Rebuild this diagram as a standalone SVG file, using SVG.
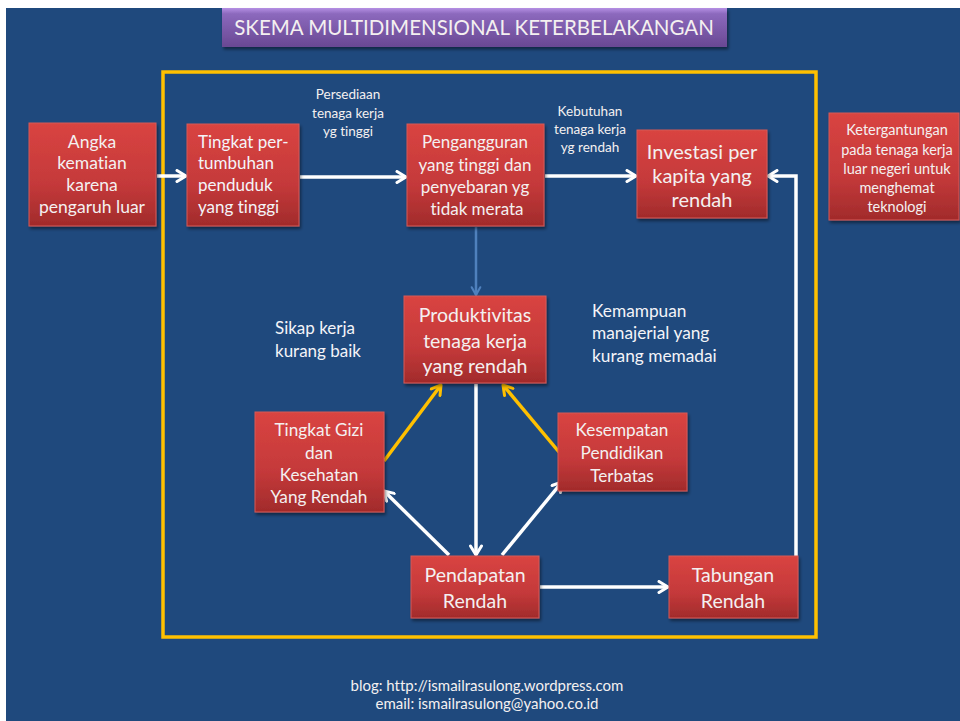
<svg xmlns="http://www.w3.org/2000/svg" width="960" height="721" viewBox="0 0 960 721">
<defs>
<linearGradient id="red" x1="0" y1="0" x2="0" y2="1">
<stop offset="0" stop-color="#D94441"/>
<stop offset="0.6" stop-color="#C4393A"/>
<stop offset="1" stop-color="#A12B2B"/>
</linearGradient>
<linearGradient id="purple" x1="0" y1="0" x2="0" y2="1">
<stop offset="0" stop-color="#B58FE4"/>
<stop offset="0.15" stop-color="#8C69BD"/>
<stop offset="1" stop-color="#694893"/>
</linearGradient>
<filter id="sh" x="-10%" y="-10%" width="130%" height="130%">
<feDropShadow dx="1.5" dy="2.5" stdDeviation="1.5" flood-color="#000" flood-opacity="0.45"/>
</filter>
<marker id="aw" viewBox="0 0 14 14" refX="12" refY="7" markerWidth="14" markerHeight="14" markerUnits="userSpaceOnUse" orient="auto">
<path d="M3,1.5 L12,7 L3,12.5" fill="none" stroke="#FFFFFF" stroke-width="3" stroke-linecap="round" stroke-linejoin="round"/>
</marker>
<marker id="ay" viewBox="0 0 14 14" refX="12" refY="7" markerWidth="14" markerHeight="14" markerUnits="userSpaceOnUse" orient="auto">
<path d="M3,1.5 L12,7 L3,12.5" fill="none" stroke="#FFC000" stroke-width="3" stroke-linecap="round" stroke-linejoin="round"/>
</marker>
<marker id="ab" viewBox="0 0 14 14" refX="12" refY="7" markerWidth="12" markerHeight="12" markerUnits="userSpaceOnUse" orient="auto">
<path d="M3,2 L12,7 L3,12" fill="none" stroke="#4F81BD" stroke-width="2.5" stroke-linecap="round" stroke-linejoin="round"/>
</marker>
</defs>
<style>
.box{fill:url(#red);stroke:#D65A58;stroke-width:1;filter:url(#sh)}
text{font-variant-ligatures:none}
.t{font-family:Lato,"Liberation Sans",sans-serif;fill:#F4F0F0;text-anchor:middle}
.tl{font-family:Lato,"Liberation Sans",sans-serif;fill:#F4F4F8}
.w{stroke:#FFFFFF;stroke-width:3.5;fill:none}
.y{stroke:#FFC000;stroke-width:3.5;fill:none}
</style>
<rect x="0" y="0" width="960" height="721" fill="#FFFFFF"/>
<rect x="6" y="8" width="954" height="713" fill="#1F497D"/>

<g id="title">
<rect x="222" y="8" width="505" height="39" fill="url(#purple)" filter="url(#sh)"/>
<text x="474" y="35" class="t" font-size="20.5" fill="#FFFFFF">SKEMA MULTIDIMENSIONAL KETERBELAKANGAN</text>
</g>

<g id="frame">
<rect x="163" y="72" width="653" height="565" fill="none" stroke="#FFC000" stroke-width="3.5"/>
</g>

<g id="connectors">
<line class="w" x1="157" y1="176" x2="186" y2="176" marker-end="url(#aw)"/>
<line class="w" x1="300" y1="177" x2="406" y2="177" marker-end="url(#aw)"/>
<line class="w" x1="545" y1="176" x2="636" y2="176" marker-end="url(#aw)"/>
<polyline class="w" points="796,556 796,176 768,176" marker-end="url(#aw)"/>
<line x1="476" y1="227" x2="476" y2="295" stroke="#4F81BD" stroke-width="2.5" marker-end="url(#ab)"/>
<line class="y" x1="384" y1="461" x2="441" y2="385" marker-end="url(#ay)"/>
<line class="y" x1="559" y1="452" x2="503" y2="385" marker-end="url(#ay)"/>
<line class="w" x1="476" y1="384" x2="476" y2="555" marker-end="url(#aw)"/>
<line class="w" x1="449" y1="555" x2="384" y2="491" marker-end="url(#aw)"/>
<line class="w" x1="502" y1="555" x2="562" y2="482" marker-end="url(#aw)"/>
<line class="w" x1="540" y1="587" x2="668" y2="587" marker-end="url(#aw)"/>
</g>

<g id="angka">
<rect class="box" x="29" y="123" width="127" height="103"/>
<text class="t" font-size="17.5"><tspan x="92" y="148">Angka</tspan><tspan x="92" y="169">kematian</tspan><tspan x="92" y="191">karena</tspan><tspan x="92" y="213">pengaruh luar</tspan></text>
</g>

<g id="tingkat">
<rect class="box" x="187" y="124" width="112" height="102"/>
<text class="tl" font-size="17"><tspan x="198" y="148">Tingkat per-</tspan><tspan x="198" y="169">tumbuhan</tspan><tspan x="198" y="191">penduduk</tspan><tspan x="198" y="213">yang tinggi</tspan></text>
</g>

<g id="pengangguran">
<rect class="box" x="407" y="124" width="137" height="102"/>
<text class="t" font-size="17"><tspan x="475" y="148">Pengangguran</tspan><tspan x="475" y="171">yang tinggi dan</tspan><tspan x="475" y="193">penyebaran yg</tspan><tspan x="477" y="215">tidak merata</tspan></text>
</g>

<g id="investasi">
<rect class="box" x="637" y="130" width="130" height="88"/>
<text class="t" font-size="20"><tspan x="702" y="159">Investasi per</tspan><tspan x="702" y="183">kapita yang</tspan><tspan x="702" y="207">rendah</tspan></text>
</g>

<g id="ketergantungan">
<rect class="box" x="829" y="113" width="130" height="107"/>
<text class="t" font-size="14.5"><tspan x="897" y="135">Ketergantungan</tspan><tspan x="897" y="155">pada tenaga kerja</tspan><tspan x="897" y="174">luar negeri untuk</tspan><tspan x="897" y="193">menghemat</tspan><tspan x="897" y="212">teknologi</tspan></text>
</g>

<g id="label-persediaan">
<text class="t" font-size="13.5"><tspan x="348" y="99">Persediaan</tspan><tspan x="348" y="118">tenaga kerja</tspan><tspan x="348" y="136">yg tinggi</tspan></text>
</g>

<g id="label-kebutuhan">
<text class="t" font-size="13.5"><tspan x="590" y="116">Kebutuhan</tspan><tspan x="590" y="134">tenaga kerja</tspan><tspan x="590" y="152">yg rendah</tspan></text>
</g>

<g id="produktivitas">
<rect class="box" x="404" y="296" width="142" height="87"/>
<text class="t" font-size="19.5"><tspan x="475" y="322">Produktivitas</tspan><tspan x="475" y="348">tenaga kerja</tspan><tspan x="475" y="373">yang rendah</tspan></text>
</g>

<g id="label-sikap">
<text class="tl" font-size="17"><tspan x="275" y="334">Sikap kerja</tspan><tspan x="275" y="357">kurang baik</tspan></text>
</g>

<g id="label-kemampuan">
<text class="tl" font-size="17.3"><tspan x="592" y="317">Kemampuan</tspan><tspan x="592" y="339">manajerial yang</tspan><tspan x="592" y="362">kurang memadai</tspan></text>
</g>

<g id="gizi">
<rect class="box" x="255" y="412" width="129" height="100"/>
<text class="t" font-size="17.2"><tspan x="319" y="436">Tingkat Gizi</tspan><tspan x="319" y="459">dan</tspan><tspan x="319" y="481">Kesehatan</tspan><tspan x="319" y="503">Yang Rendah</tspan></text>
</g>

<g id="kesempatan">
<rect class="box" x="558" y="413" width="129" height="78"/>
<text class="t" font-size="17.2"><tspan x="622" y="436">Kesempatan</tspan><tspan x="622" y="459">Pendidikan</tspan><tspan x="622" y="482">Terbatas</tspan></text>
</g>

<g id="pendapatan">
<rect class="box" x="411" y="556" width="128" height="62"/>
<text class="t" font-size="19.5"><tspan x="475" y="582">Pendapatan</tspan><tspan x="475" y="608">Rendah</tspan></text>
</g>

<g id="tabungan">
<rect class="box" x="669" y="556" width="129" height="62"/>
<text class="t" font-size="19.5"><tspan x="733" y="582">Tabungan</tspan><tspan x="733" y="608">Rendah</tspan></text>
</g>

<g id="footer">
<text class="t" font-size="15" fill="#E8ECF4"><tspan x="487" y="691">blog: http://ismailrasulong.wordpress.com</tspan><tspan x="487" y="709">email: ismailrasulong@yahoo.co.id</tspan></text>
</g>
</svg>
